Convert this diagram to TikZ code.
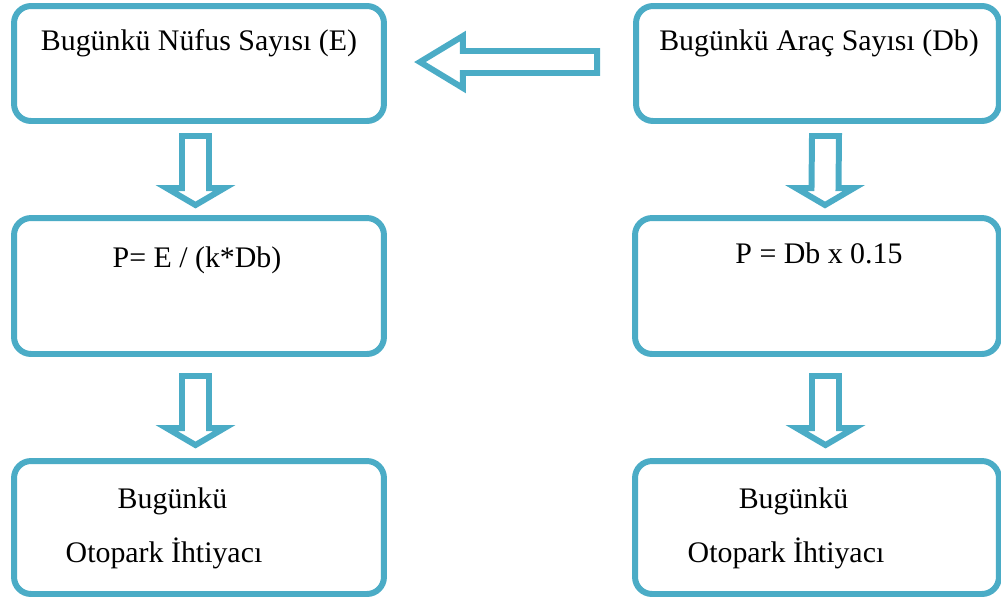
\documentclass[tikz,border=0pt]{standalone}
\usepackage{fontspec}
\setmainfont{Liberation Serif}
\usetikzlibrary{calc}

\definecolor{boxblue}{RGB}{75,172,198}

\tikzset{
  box/.style={draw=boxblue, line width=3.4pt, rounded corners=0.34cm, fill=white, outer sep=0pt, minimum width=7.4cm},
  lbl/.style={font=\fontsize{17}{20}\selectfont, inner sep=0pt, anchor=base},
  blk/.style={draw=boxblue, line width=3.4pt, line join=miter},
  downblock/.style={to path={
    ([xshift=-0.27cm]\tikztostart) -- ([xshift=-0.27cm,yshift=0.34cm]\tikztotarget)
    -- ([xshift=-0.58cm,yshift=0.34cm]\tikztotarget) -- (\tikztotarget)
    -- ([xshift=0.58cm,yshift=0.34cm]\tikztotarget) -- ([xshift=0.27cm,yshift=0.34cm]\tikztotarget)
    -- ([xshift=0.27cm]\tikztostart) -- cycle}},
  leftblock/.style={to path={
    ([yshift=0.22cm]\tikztostart) -- ([xshift=0.86cm,yshift=0.22cm]\tikztotarget)
    -- ([xshift=0.86cm,yshift=0.52cm]\tikztotarget) -- (\tikztotarget)
    -- ([xshift=0.86cm,yshift=-0.52cm]\tikztotarget) -- ([xshift=0.86cm,yshift=-0.22cm]\tikztotarget)
    -- ([yshift=-0.22cm]\tikztostart) -- cycle}},
}

\begin{document}
\begin{tikzpicture}[x=0.02cm, y=-0.02cm]
	\useasboundingbox (0,0) rectangle (1001,600);
	\node[box, minimum height=2.3cm] (nufus) at (199,63.5) {};
	\node[box, minimum height=2.3cm, minimum width=7.26cm] (arac) at (817.5,63.5) {};
	\node[box, minimum height=2.72cm] (pleft) at (199,286) {};
	\node[box, minimum height=2.72cm, minimum width=7.28cm] (pright) at (817,286) {};
	\node[box, minimum height=2.66cm] (ihtleft) at (199,527.5) {};
	\node[box, minimum height=2.66cm, minimum width=7.28cm] (ihtright) at (817,527.5) {};

	\node[lbl] (nufustxt) at ([yshift=-0.88cm]nufus.north) {Bugünkü Nüfus Sayısı (E)};
	\node[lbl] (aractxt) at ([xshift=0.03cm,yshift=-0.88cm]arac.north) {Bugünkü Araç Sayısı (Db)};
	\node[lbl] (plefttxt) at ([xshift=-0.04cm,yshift=-0.98cm]pleft.north) {P= E / (k*Db)};
	\node[lbl] (prighttxt) at ([xshift=0.04cm,yshift=-0.9cm]pright.north) {P = Db x 0.15};
	\node[lbl] (ihtleftA) at ([xshift=-0.53cm,yshift=-0.94cm]ihtleft.north) {Bugünkü};
	\node[lbl] (ihtleftB) at ([xshift=-0.7cm,yshift=-2.02cm]ihtleft.north) {Otopark İhtiyacı};
	\node[lbl] (ihtrightA) at ([xshift=-0.47cm,yshift=-0.94cm]ihtright.north) {Bugünkü};
	\node[lbl] (ihtrightB) at ([xshift=-0.62cm,yshift=-2.02cm]ihtright.north) {Otopark İhtiyacı};

	\draw[blk] ([xshift=-0.78cm,yshift=0.03cm]arac.west) to[leftblock] ([xshift=0.72cm,yshift=0.03cm]nufus.east);
	\draw[blk] ([xshift=-0.07cm,yshift=-0.3cm]nufus.south) to[downblock] ([xshift=-0.07cm,yshift=0.26cm]pleft.north);
	\draw[blk] ([xshift=0.16cm,yshift=-0.3cm]arac.south) to[downblock] ([xshift=0.16cm,yshift=0.26cm]pright.north);
	\draw[blk] ([xshift=-0.07cm,yshift=-0.44cm]pleft.south) to[downblock] ([xshift=-0.07cm,yshift=0.32cm]ihtleft.north);
	\draw[blk] ([xshift=0.17cm,yshift=-0.44cm]pright.south) to[downblock] ([xshift=0.17cm,yshift=0.32cm]ihtright.north);
\end{tikzpicture}
\end{document}
